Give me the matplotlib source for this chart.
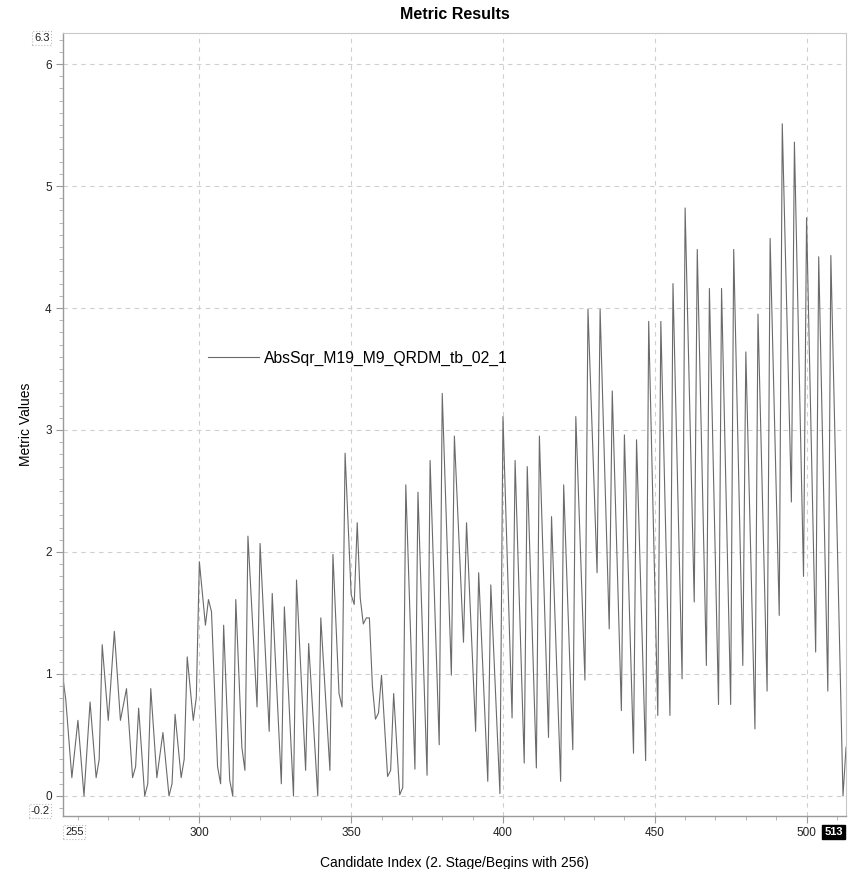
import matplotlib
matplotlib.use("Agg")
import matplotlib.pyplot as plt
from matplotlib.ticker import MultipleLocator, FixedLocator

plt.rcParams['font.family'] = ['Liberation Sans', 'DejaVu Sans']

# Vertices (candidate index, metric value)
idx = [255, 256, 258, 260, 262, 264, 266, 267, 268, 270, 272, 274, 276, 278, 279, 280,
       282, 283, 284, 286, 288, 290, 291, 292, 294, 295, 296, 298, 299, 300, 302, 303,
       304, 306, 307, 308, 310, 311, 312, 314, 315, 316, 319, 320, 323, 324, 327, 328,
       331, 332, 335, 336, 339, 340, 343, 344, 346, 347, 348, 350, 351, 352, 353, 354,
       355, 356, 357, 358, 359, 360, 362, 363, 364, 366, 367, 368, 371, 372, 375, 376,
       379, 380, 383, 384, 387, 388, 391, 392, 395, 396, 399, 400, 403, 404, 407, 408,
       411, 412, 415, 416, 419, 420, 423, 424, 427, 428, 431, 432, 435, 436, 439, 440,
       443, 444, 447, 448, 451, 452, 455, 456, 459, 460, 463, 464, 467, 468, 471, 472,
       475, 476, 479, 480, 483, 484, 487, 488, 491, 492, 495, 496, 499, 500, 503, 504,
       507, 508, 512, 513]
vals = [0.98, 0.79, 0.15, 0.62, 0.00, 0.77, 0.15, 0.30, 1.24, 0.62, 1.35, 0.62, 0.88, 0.15, 0.24, 0.72,
        0.00, 0.10, 0.88, 0.15, 0.52, 0.00, 0.10, 0.67, 0.15, 0.30, 1.14, 0.62, 0.81, 1.92, 1.40, 1.61,
        1.51, 0.24, 0.10, 1.40, 0.13, 0.00, 1.61, 0.40, 0.21, 2.13, 0.73, 2.07, 0.53, 1.66, 0.10, 1.55,
        0.00, 1.77, 0.21, 1.25, 0.00, 1.46, 0.21, 1.98, 0.84, 0.73, 2.81, 1.65, 1.57, 2.24, 1.62, 1.41,
        1.46, 1.46, 0.90, 0.63, 0.68, 0.99, 0.16, 0.21, 0.84, 0.01, 0.07, 2.55, 0.22, 2.49, 0.17, 2.75,
        0.42, 3.30, 0.99, 2.95, 1.26, 2.24, 0.53, 1.83, 0.12, 1.73, 0.02, 3.11, 0.64, 2.75, 0.27, 2.70,
        0.23, 2.95, 0.48, 2.29, 0.12, 2.55, 0.38, 3.11, 0.95, 3.99, 1.83, 3.99, 1.37, 3.32, 0.70, 2.96,
        0.35, 2.92, 0.29, 3.89, 0.66, 3.89, 0.66, 4.20, 0.96, 4.82, 1.59, 4.48, 1.07, 4.16, 0.75, 4.16,
        0.75, 4.48, 1.07, 3.64, 0.55, 3.95, 0.86, 4.57, 1.48, 5.51, 2.41, 5.36, 1.80, 4.74, 1.18, 4.42,
        0.86, 4.43, 0.00, 0.40]

series_name = "AbsSqr_M19_M9_QRDM_tb_02_1"
x_ticks = [300, 350, 400, 450, 500]
y_ticks = [0, 1, 2, 3, 4, 5, 6]
x_min, x_max = 255, 513
y_min, y_max = -0.164, 6.254

fig = plt.figure(figsize=(8.49, 8.69), dpi=100)
ax = fig.add_axes([0.0739, 0.061, 0.9226, 0.901])

ax.plot(idx, vals, color='#6a6a6a', lw=0.8, label=series_name)

ax.set_xlim(x_min, x_max)
ax.set_ylim(y_min, y_max)
ax.set_xticks(x_ticks)
ax.set_yticks(y_ticks)
ax.xaxis.set_minor_locator(FixedLocator([v for v in range(260, 513, 10) if v % 50 != 0]))
ax.yaxis.set_minor_locator(MultipleLocator(0.1))
ax.tick_params(axis='both', which='major', labelsize=8.5, colors='#999999', labelcolor='#222222',
               length=5, width=0.8, direction='out', pad=3)
ax.tick_params(axis='both', which='minor', colors='#aaaaaa', length=3, width=0.6, direction='out')

ax.grid(True, which='major', color='#cfcfcf', linestyle=(0, (4, 4)), lw=0.8)
for s in ['left', 'bottom']:
    ax.spines[s].set_color('#9a9a9a')
    ax.spines[s].set_linewidth(1.0)
for s in ['top', 'right']:
    ax.spines[s].set_color('#c8c8c8')
    ax.spines[s].set_linewidth(0.8)
    ax.spines[s].set_linestyle((0, (1, 1)))

ax.set_title("Metric Results", fontsize=11.5, fontweight='bold', pad=10)
ax.set_ylabel("Metric Values", fontsize=10, labelpad=9)
ax.set_xlabel("Candidate Index (2. Stage/Begins with 256)", fontsize=10, labelpad=12)

# End labels for axes
ax.text(-0.017, 1.0, "6.3", transform=ax.transAxes, ha='right', va='top', fontsize=8,
        color='#222222', bbox=dict(boxstyle='square,pad=0.15', fc='white', ec='#bbbbbb', ls=':', lw=0.8))
ax.text(-0.017, 0.0, "-0.2", transform=ax.transAxes, ha='right', va='bottom', fontsize=8,
        color='#222222', bbox=dict(boxstyle='square,pad=0.15', fc='white', ec='#bbbbbb', ls=':', lw=0.8))
ax.text(0.003, -0.014, "255", transform=ax.transAxes, ha='left', va='top', fontsize=8,
        color='#222222', bbox=dict(boxstyle='square,pad=0.15', fc='white', ec='#bbbbbb', ls=':', lw=0.8))
ax.text(0.996, -0.014, "513", transform=ax.transAxes, ha='right', va='top', fontsize=8,
        color='white', fontweight='bold', bbox=dict(boxstyle='square,pad=0.2', fc='black', ec='black'))

leg = ax.legend(loc='center left', bbox_to_anchor=(0.168, 0.585), frameon=False,
                fontsize=11.3, handlelength=3.2, handletextpad=0.35)

fig.savefig("out.png", dpi=100)
